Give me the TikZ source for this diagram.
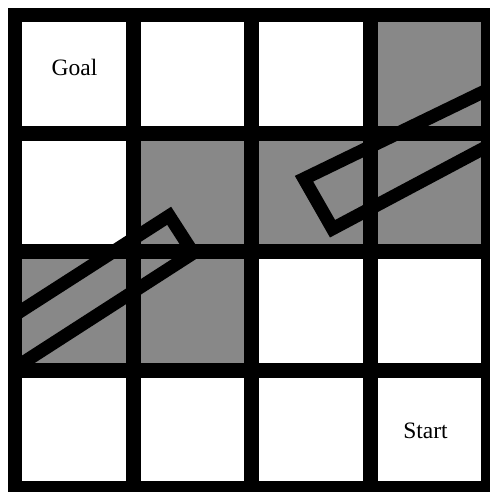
\documentclass[tikz,border=0pt]{standalone}
\usepackage{fontspec}
\setmainfont{Liberation Serif}
\usepackage{xcolor}
\usepackage{tikz}
\usetikzlibrary{positioning}
\definecolor{cellgray}{RGB}{136,136,136}

\begin{document}
\begin{tikzpicture}[x=2cm,y=2cm,font=\fontsize{11.3}{13}\selectfont,
    gridline/.style={line width=7.2pt,line cap=rect},
    robot/.style={line width=6.3pt,line join=miter}]
  \useasboundingbox (-0.1267,-0.0287) rectangle (4.0118,4.1267);
  % shaded cells
  \foreach \c/\r in {3/3,1/2,2/2,3/2,0/1,1/1}
    \fill[cellgray] (\c,\r) rectangle ++(1,1);
  % robot outlines (cut at the frame)
  \begin{scope}
    \clip (0,0) rectangle (4,4);
    \draw[robot] (1.302,2.304) -- (1.505,1.989) -- (-0.296,0.829) -- (-0.296,1.278) -- cycle;
    \draw[robot] (2.441,2.617) -- (2.682,2.195) -- (4.265,3.037) -- (4.265,3.501) -- cycle;
  \end{scope}
  % grid lines
  \foreach \i in {0,...,4} {
    \draw[gridline] (\i,0) -- (\i,4);
    \draw[gridline] (0,\i) -- (4,\i);
  }
  % labels
  \node[anchor=base] (goal) at (0.5025,3.485) {Goal};
  \node[anchor=base] (start) at (3.467,0.425) {Start};
\end{tikzpicture}
\end{document}
